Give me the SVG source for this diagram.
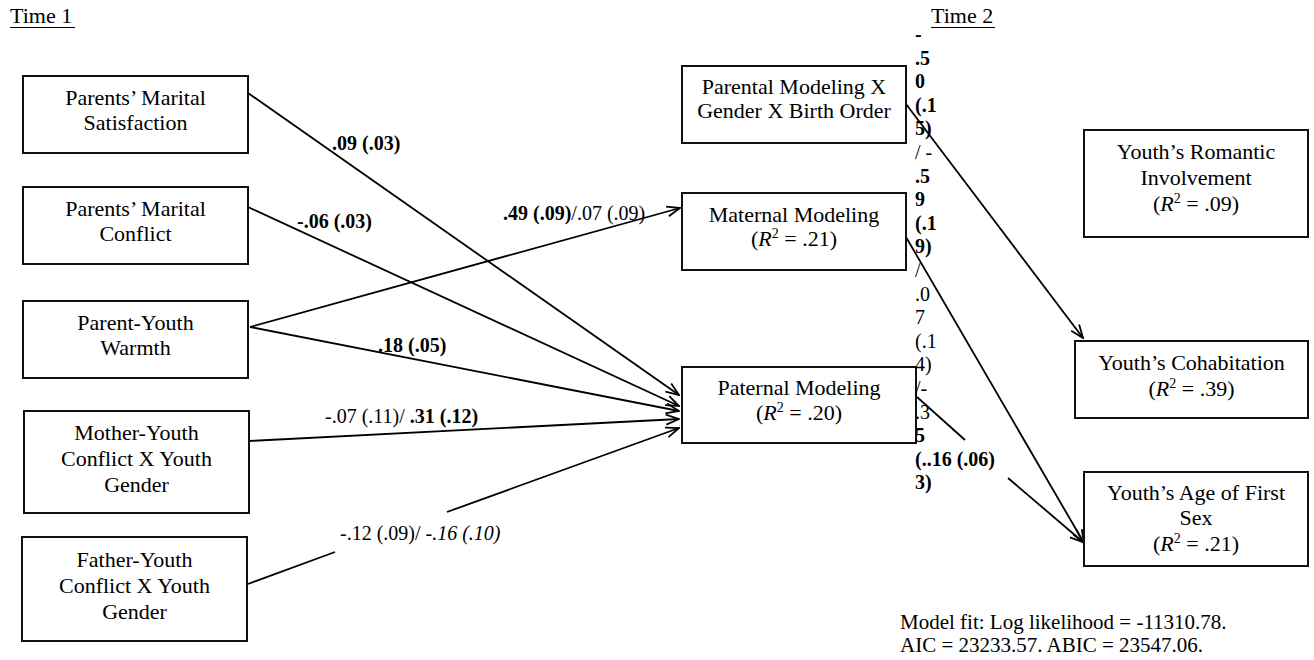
<svg xmlns="http://www.w3.org/2000/svg" width="1314" height="660" viewBox="0 0 1314 660">
<style>
  text { font-family: "Liberation Serif", "Times New Roman", serif; fill: #000; }
  .nt { font-size: 22px; text-anchor: middle; }
  .hd { font-size: 22px; }
  .lb { font-size: 20px; }
  .b { font-weight: bold; }
  .i { font-style: italic; }
  .box { fill: #fff; stroke: #111; stroke-width: 2; }
  .cn { stroke: #000; stroke-width: 1.8; fill: none; }
  .fit { font-size: 21px; }
</style>
<defs>
  <marker id="ah" markerWidth="15" markerHeight="12" refX="14" refY="6" orient="auto" markerUnits="userSpaceOnUse">
    <path d="M1,1 L14,6 L1,11" fill="none" stroke="#000" stroke-width="1.8"/>
  </marker>
</defs>
<rect width="1314" height="660" fill="#fff"/>

<g id="headers">
  <text class="hd" x="10" y="23">Time 1</text>
  <line x1="10" y1="27.5" x2="75" y2="27.5" stroke="#000" stroke-width="1.2"/>
  <text class="hd" x="931" y="23">Time 2</text>
  <line x1="931" y1="27.5" x2="995" y2="27.5" stroke="#000" stroke-width="1.2"/>
</g>

<g id="connectors">
  <line class="cn" x1="248" y1="93" x2="679" y2="395" marker-end="url(#ah)"/>
  <line class="cn" x1="248" y1="207" x2="679" y2="406" marker-end="url(#ah)"/>
  <line class="cn" x1="250" y1="327" x2="680" y2="208" marker-end="url(#ah)"/>
  <line class="cn" x1="250" y1="327" x2="679" y2="411" marker-end="url(#ah)"/>
  <line class="cn" x1="249" y1="441" x2="679" y2="419" marker-end="url(#ah)"/>
  <line class="cn" x1="248" y1="584" x2="335" y2="552"/>
  <line class="cn" x1="447" y1="512" x2="679" y2="428" marker-end="url(#ah)"/>
  <line class="cn" x1="906" y1="104" x2="1083" y2="338" marker-end="url(#ah)"/>
  <line class="cn" x1="906" y1="237" x2="1084" y2="543" marker-end="url(#ah)"/>
  <line class="cn" x1="917" y1="397" x2="965" y2="440"/>
  <line class="cn" x1="1008" y1="478" x2="1083" y2="542" marker-end="url(#ah)"/>
</g>

<g id="n-satisfaction">
  <rect class="box" x="23" y="76" width="225" height="77"/>
  <text class="nt" x="135.5" y="105">Parents’ Marital</text>
  <text class="nt" x="135.5" y="130">Satisfaction</text>
</g>
<g id="n-conflict">
  <rect class="box" x="23" y="187" width="225" height="77"/>
  <text class="nt" x="135.5" y="216">Parents’ Marital</text>
  <text class="nt" x="135.5" y="241">Conflict</text>
</g>
<g id="n-warmth">
  <rect class="box" x="23" y="301" width="225" height="77"/>
  <text class="nt" x="135.5" y="330">Parent-Youth</text>
  <text class="nt" x="135.5" y="355">Warmth</text>
</g>
<g id="n-mother">
  <rect class="box" x="24" y="411" width="225" height="102"/>
  <text class="nt" x="136.5" y="440">Mother-Youth</text>
  <text class="nt" x="136.5" y="466">Conflict X Youth</text>
  <text class="nt" x="136.5" y="492">Gender</text>
</g>
<g id="n-father">
  <rect class="box" x="22" y="537" width="225" height="104"/>
  <text class="nt" x="134.5" y="567">Father-Youth</text>
  <text class="nt" x="134.5" y="593">Conflict X Youth</text>
  <text class="nt" x="134.5" y="619">Gender</text>
</g>

<g id="n-pmgbo">
  <rect class="box" x="682" y="66" width="224" height="77"/>
  <text class="nt" x="794" y="94">Parental Modeling X</text>
  <text class="nt" x="794" y="118">Gender X Birth Order</text>
</g>
<g id="n-maternal">
  <rect class="box" x="682" y="193" width="224" height="77"/>
  <text class="nt" x="794" y="222">Maternal Modeling</text>
  <text class="nt" x="794" y="246">(<tspan class="i">R</tspan><tspan font-size="14" dy="-8">2</tspan><tspan dy="8"> = .21)</tspan></text>
</g>
<g id="n-paternal">
  <rect class="box" x="682" y="367" width="234" height="76"/>
  <text class="nt" x="799" y="395">Paternal Modeling</text>
  <text class="nt" x="799" y="420">(<tspan class="i">R</tspan><tspan font-size="14" dy="-8">2</tspan><tspan dy="8"> = .20)</tspan></text>
</g>

<g id="n-romantic">
  <rect class="box" x="1084" y="130" width="224" height="107"/>
  <text class="nt" x="1196" y="159">Youth’s Romantic</text>
  <text class="nt" x="1196" y="185">Involvement</text>
  <text class="nt" x="1196" y="211">(<tspan class="i">R</tspan><tspan font-size="14" dy="-8">2</tspan><tspan dy="8"> = .09)</tspan></text>
</g>
<g id="n-cohab">
  <rect class="box" x="1075" y="341" width="233" height="77"/>
  <text class="nt" x="1191.5" y="370">Youth’s Cohabitation</text>
  <text class="nt" x="1191.5" y="396">(<tspan class="i">R</tspan><tspan font-size="14" dy="-8">2</tspan><tspan dy="8"> = .39)</tspan></text>
</g>
<g id="n-agesex">
  <rect class="box" x="1084" y="472" width="224" height="94"/>
  <text class="nt" x="1196" y="500">Youth’s Age of First</text>
  <text class="nt" x="1196" y="525">Sex</text>
  <text class="nt" x="1196" y="551">(<tspan class="i">R</tspan><tspan font-size="14" dy="-8">2</tspan><tspan dy="8"> = .21)</tspan></text>
</g>

<g id="labels">
  <text class="lb b" x="332" y="150">.09 (.03)</text>
  <text class="lb b" x="297" y="228">-.06 (.03)</text>
  <text class="lb" x="503" y="220"><tspan class="b">.49 (.09)</tspan>/.07 (.09)</text>
  <text class="lb b" x="378" y="352">.18 (.05)</text>
  <text class="lb" x="325" y="423">-.07 (.11)/ <tspan class="b">.31 (.12)</tspan></text>
  <text class="lb" x="340" y="540">-.12 (.09)/ <tspan class="i">-.16 (.10)</tspan></text>
</g>

<g id="column-label">
  <text class="lb b" x="915" y="41">-</text>
  <text class="lb b" x="915" y="64.6">.5</text>
  <text class="lb b" x="915" y="88.2">0</text>
  <text class="lb b" x="915" y="111.8">(.1</text>
  <text class="lb b" x="915" y="135.4">5)</text>
  <text class="lb" x="915" y="159">/ -</text>
  <text class="lb b" x="915" y="182.6">.5</text>
  <text class="lb b" x="915" y="206.2">9</text>
  <text class="lb b" x="915" y="229.8">(.1</text>
  <text class="lb b" x="915" y="253.4">9)</text>
  <text class="lb" x="915" y="277">/</text>
  <text class="lb" x="915" y="300.6">.0</text>
  <text class="lb" x="915" y="324.2">7</text>
  <text class="lb" x="915" y="347.8">(.1</text>
  <text class="lb" x="915" y="371.4">4)</text>
  <text class="lb" x="915" y="395">/-</text>
  <text class="lb" x="915" y="418.6">.3</text>
  <text class="lb b" x="915" y="442.2">5</text>
  <text class="lb b" x="915" y="465.8">(..16 (.06)</text>
  <text class="lb b" x="915" y="489.4">3)</text>
</g>

<g id="model-fit">
  <text class="fit" x="900" y="629">Model fit: Log likelihood = -11310.78.</text>
  <text class="fit" x="900" y="652">AIC = 23233.57. ABIC = 23547.06.</text>
</g>
</svg>
